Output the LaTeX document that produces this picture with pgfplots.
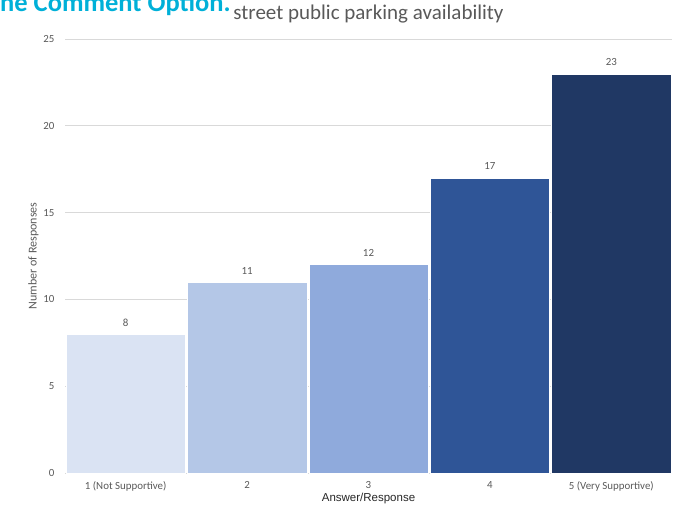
\documentclass[border=0pt]{standalone}
\usepackage{pgfplots}
\pgfplotsset{compat=1.18}
\usepackage{fontspec}
\setmainfont{Carlito}
\newfontfamily\arialfont{Liberation Sans}
\definecolor{cA}{HTML}{DAE3F3}
\definecolor{cB}{HTML}{B4C7E7}
\definecolor{cC}{HTML}{8FAADC}
\definecolor{cD}{HTML}{2F5597}
\definecolor{cE}{HTML}{203864}
\definecolor{txtgray}{HTML}{595959}
\definecolor{gridgray}{HTML}{D9D9D9}
\definecolor{teal}{HTML}{00B0D8}
\begin{document}
\begin{tikzpicture}[x=1pt,y=1pt]
\clip (0,0) rectangle (690,507);
\useasboundingbox (0,0) rectangle (690,507);
\node[anchor=base west, inner sep=0pt, text=teal, font=\fontsize{26.5}{29}\selectfont\bfseries] at (0,495.5) {ne Comment Option.};
\begin{axis}[
  at={(65pt,34pt)}, anchor=south west,
  scale only axis, width=607pt, height=434pt,
  xmin=-0.5, xmax=4.5, ymin=0, ymax=25,
  ybar, bar width=119.5pt,
  separate axis lines,
  axis x line*=bottom,
  axis y line*=left,
  y axis line style={draw=none},
  x axis line style={gridgray, line width=0.8pt, -},
  /pgf/number format/assume math mode=true,
  xtick={0,1,2,3,4},
  xticklabels={1 (Not Supportive),2,3,4,5 (Very Supportive)},
  extra x ticks={-0.5,0.5,1.5,2.5,3.5,4.5},
  extra x tick labels={},
  extra x tick style={major tick length=4pt, tick style={gridgray, line width=0.8pt}, tick align=outside, grid=none},
  major x tick style={draw=none},
  xticklabel style={font=\fontsize{10.9}{12}\selectfont, text=txtgray, yshift=-1pt},
  ytick={0,5,10,15,20,25},
  ytick style={draw=none},
  yticklabel style={font=\fontsize{10.9}{12}\selectfont, text=txtgray, xshift=-7pt},
  ymajorgrids,
  xmajorgrids=false,
  grid style={gridgray, line width=0.7pt},
  title={street public parking availability},
  title style={font=\fontsize{21}{24}\selectfont, text=txtgray, at={(0.5,1)}, anchor=base, yshift=13pt},
  xlabel={Answer/Response},
  xlabel style={font=\arialfont\fontsize{11.5}{13}\selectfont, text=black!85, yshift=14pt},
  ylabel={Number of Responses},
  ylabel style={font=\fontsize{12}{14}\selectfont, text=txtgray, yshift=-2pt},
  nodes near coords,
  nodes near coords style={font=\fontsize{10.9}{12}\selectfont, text=txtgray, yshift=4.5pt},
]
\addplot[fill=cA, draw=white, line width=0.4pt, bar shift=0pt] coordinates {(0,8)};
\addplot[fill=cB, draw=white, line width=0.4pt, bar shift=0pt] coordinates {(1,11)};
\addplot[fill=cC, draw=white, line width=0.4pt, bar shift=0pt] coordinates {(2,12)};
\addplot[fill=cD, draw=white, line width=0.4pt, bar shift=0pt] coordinates {(3,17)};
\addplot[fill=cE, draw=white, line width=0.4pt, bar shift=0pt] coordinates {(4,23)};
\end{axis}
\end{tikzpicture}
\end{document}
